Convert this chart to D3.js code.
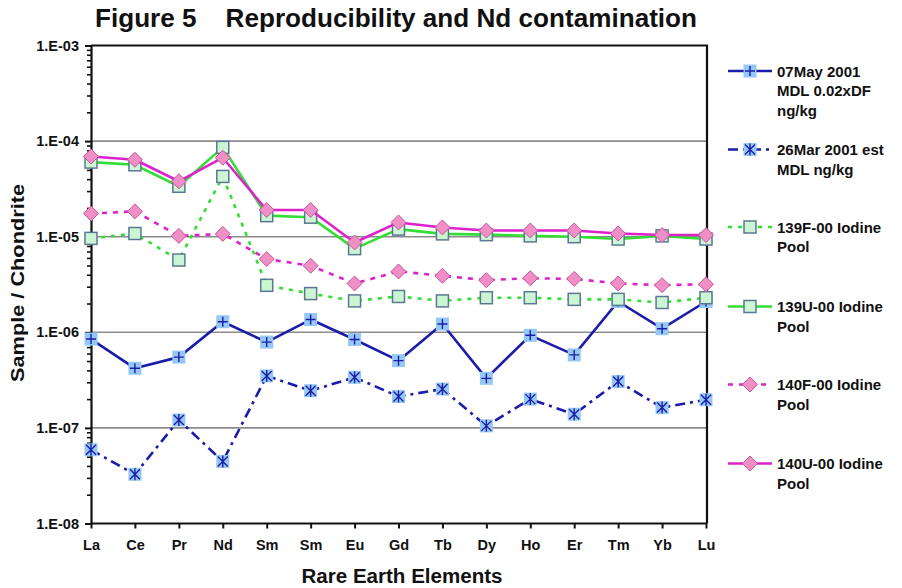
<!DOCTYPE html>
<html>
<head>
<meta charset="utf-8">
<script src="https://cdn.jsdelivr.net/npm/d3@7"></script>
<style>
  html, body { margin: 0; padding: 0; background: #ffffff; }
  svg { display: block; font-family: "Liberation Sans", Arial, sans-serif; font-weight: bold; }
  .pre { white-space: pre; }
</style>
</head>
<body>
<svg id="chart" width="902" height="588"></svg>
<script>
// Rare earth elements along the x axis (Sm appears twice in the source table)
const categories = ["La","Ce","Pr","Nd","Sm","Sm","Eu","Gd","Tb","Dy","Ho","Er","Tm","Yb","Lu"];

// Chondrite-normalised values per series
const may2001 = [8.5e-7, 4.2e-7, 5.5e-7, 1.29e-6, 7.9e-7, 1.36e-6, 8.4e-7, 5.05e-7, 1.22e-6, 3.3e-7, 9.3e-7, 5.8e-7, 2.1e-6, 1.09e-6, 2.1e-6];
const mar2001 = [5.9e-8, 3.27e-8, 1.21e-7, 4.46e-8, 3.5e-7, 2.45e-7, 3.38e-7, 2.13e-7, 2.55e-7, 1.05e-7, 2.0e-7, 1.39e-7, 3.06e-7, 1.63e-7, 1.97e-7];
const pool139F = [9.6e-6, 1.08e-5, 5.7e-6, 4.27e-5, 3.1e-6, 2.54e-6, 2.13e-6, 2.37e-6, 2.13e-6, 2.3e-6, 2.3e-6, 2.21e-6, 2.21e-6, 2.05e-6, 2.3e-6];
const pool139U = [6.03e-5, 5.65e-5, 3.37e-5, 8.6e-5, 1.66e-5, 1.6e-5, 7.5e-6, 1.2e-5, 1.07e-5, 1.05e-5, 1.02e-5, 1.0e-5, 9.45e-6, 1.02e-5, 9.45e-6];
const pool140F = [1.75e-5, 1.84e-5, 1.02e-5, 1.07e-5, 5.84e-6, 4.97e-6, 3.24e-6, 4.33e-6, 3.9e-6, 3.51e-6, 3.68e-6, 3.62e-6, 3.24e-6, 3.11e-6, 3.18e-6];
const pool140U = [6.9e-5, 6.38e-5, 3.8e-5, 6.7e-5, 1.9e-5, 1.9e-5, 8.7e-6, 1.41e-5, 1.25e-5, 1.16e-5, 1.16e-5, 1.16e-5, 1.08e-5, 1.04e-5, 1.04e-5];

// Axis ticks
const yTicks = [1e-8, 1e-7, 1e-6, 1e-5, 1e-4, 1e-3];
const yTickLabels = ["1.E-08", "1.E-07", "1.E-06", "1.E-05", "1.E-04", "1.E-03"];

const seriesNames = [
  ["07May 2001", "MDL 0.02xDF", "ng/kg"],
  ["26Mar 2001 est", "MDL ng/kg"],
  ["139F-00 Iodine", "Pool"],
  ["139U-00 Iodine", "Pool"],
  ["140F-00 Iodine", "Pool"],
  ["140U-00 Iodine", "Pool"]
];

const BLUE = "#1c1caa", BLUE_FILL = "#95c8f4";
const GREEN = "#33dd33", GREEN_FILL = "#ccf5d4", GREEN_EDGE = "#5a7894";
const MAG = "#dd22cc", PINK_FILL = "#f08ec6", PINK_EDGE = "#c4589c";

const series = [
  { values: may2001, color: BLUE, dash: null, marker: "plus" },
  { values: mar2001, color: BLUE, dash: "10,5,3,5", marker: "star" },
  { values: pool139F, color: GREEN, dash: "4,6", marker: "square" },
  { values: pool139U, color: GREEN, dash: null, marker: "square" },
  { values: pool140F, color: MAG, dash: "5,6", marker: "diamond" },
  { values: pool140U, color: MAG, dash: null, marker: "diamond" }
];

const svg = d3.select("#chart");
const plot = { left: 91, right: 707, top: 45.5, bottom: 523.5 };

const x = d3.scalePoint()
  .domain(d3.range(categories.length))
  .range([plot.left, plot.right - 1]);

const y = d3.scaleLog()
  .domain([1e-8, 1e-3])
  .range([plot.bottom, plot.top]);

// Gridlines at the inner decades
svg.append("g")
  .selectAll("line")
  .data(yTicks.slice(1, -1))
  .join("line")
  .attr("x1", plot.left).attr("x2", plot.right)
  .attr("y1", d => y(d)).attr("y2", d => y(d))
  .attr("stroke", "#8c8c8c").attr("stroke-width", 1.6);

// Plot frame (top and right edges)
svg.append("path")
  .attr("d", `M${plot.left},${y(1e-3)}H${plot.right}V${plot.bottom}`)
  .attr("fill", "none").attr("stroke", "#111").attr("stroke-width", 2.2);

// Minor ticks on the log axis
const minorTicks = [];
for (let e = -8; e < -3; e++) for (let m = 2; m <= 9; m++) minorTicks.push(m * Math.pow(10, e));

const minorAxis = svg.append("g")
  .attr("transform", `translate(${plot.left},0)`)
  .call(d3.axisLeft(y).tickValues(minorTicks).tickSize(4).tickFormat(""));
minorAxis.select(".domain").remove();
minorAxis.selectAll("line").attr("stroke", "#111").attr("stroke-width", 1.6);

const yAxis = svg.append("g")
  .attr("transform", `translate(${plot.left},0)`)
  .call(d3.axisLeft(y).tickValues(yTicks).tickSize(6).tickPadding(6)
    .tickFormat((d, i) => yTickLabels[i]));
yAxis.select(".domain").attr("stroke", "#111").attr("stroke-width", 2.2);
yAxis.selectAll("line").attr("stroke", "#111").attr("stroke-width", 2);
yAxis.selectAll("text")
  .attr("font-size", 14.5).attr("font-weight", "bold").attr("fill", "#111")
  .attr("font-family", "'Liberation Sans', Arial, sans-serif");

const xAxis = svg.append("g")
  .attr("transform", `translate(0,${plot.bottom})`)
  .call(d3.axisBottom(x).tickSize(5).tickPadding(11).tickFormat(i => categories[i]));
xAxis.select(".domain").attr("d", `M${plot.left},0H${plot.right}`)
  .attr("stroke", "#111").attr("stroke-width", 2.2);
xAxis.selectAll("line").attr("stroke", "#111").attr("stroke-width", 2);
xAxis.selectAll("text")
  .attr("font-size", 14.5).attr("font-weight", "bold").attr("fill", "#111")
  .attr("font-family", "'Liberation Sans', Arial, sans-serif");

// Marker shapes centred on (0,0)
function drawMarker(g, kind) {
  if (kind === "plus" || kind === "star") {
    g.append("rect").attr("x", -6.5).attr("y", -6.5).attr("width", 13).attr("height", 13)
      .attr("fill", BLUE_FILL);
    const p = kind === "plus"
      ? "M-5,0H5M0,-5V5"
      : "M0,-6V6M-5,-5L5,5M-5,5L5,-5";
    g.append("path").attr("d", p).attr("stroke", BLUE).attr("stroke-width", 1.4).attr("fill", "none");
  } else if (kind === "square") {
    g.append("rect").attr("x", -6).attr("y", -6).attr("width", 12).attr("height", 12)
      .attr("fill", GREEN_FILL).attr("stroke", GREEN_EDGE).attr("stroke-width", 1.5);
  } else if (kind === "diamond") {
    g.append("path").attr("d", "M0,-7.5L7.5,0L0,7.5L-7.5,0Z")
      .attr("fill", PINK_FILL).attr("stroke", PINK_EDGE).attr("stroke-width", 1);
  }
}

const line = d3.line().x((d, i) => x(i)).y(d => y(d));

series.forEach(s => {
  const g = svg.append("g");
  g.append("path")
    .attr("d", line(s.values))
    .attr("fill", "none")
    .attr("stroke", s.color)
    .attr("stroke-width", 2.6)
    .attr("stroke-dasharray", s.dash)
    .attr("stroke-linejoin", "round");
  s.values.forEach((v, i) => {
    const m = g.append("g").attr("transform", `translate(${x(i)},${y(v)})`);
    drawMarker(m, s.marker);
  });
});

// Legend
const legendTops = [71, 149.5, 227, 306.5, 384.5, 463.5];
const legend = svg.append("g");
series.forEach((s, k) => {
  const ly = legendTops[k];
  const g = legend.append("g");
  g.append("line").attr("x1", 728).attr("x2", 772).attr("y1", ly).attr("y2", ly)
    .attr("stroke", s.color).attr("stroke-width", 2.6).attr("stroke-dasharray", s.dash);
  drawMarker(g.append("g").attr("transform", `translate(750,${ly})`), s.marker);
  const t = g.append("text").attr("x", 777).attr("y", ly + 5.5)
    .attr("font-size", 15).attr("fill", "#111");
  seriesNames[k].forEach((txt, j) => {
    t.append("tspan").attr("x", 777).attr("dy", j === 0 ? 0 : 19.5).text(txt);
  });
});

// Titles
svg.append("text")
  .attr("class", "pre")
  .attr("x", 95).attr("y", 27)
  .attr("font-size", 25).attr("fill", "#111")
  .attr("textLength", 602).attr("lengthAdjust", "spacingAndGlyphs")
  .text("Figure 5    Reproducibility and Nd contamination");

svg.append("text")
  .attr("x", 402).attr("y", 583).attr("text-anchor", "middle")
  .attr("font-size", 20).attr("fill", "#111")
  .attr("textLength", 201).attr("lengthAdjust", "spacingAndGlyphs")
  .text("Rare Earth Elements");

svg.append("text")
  .attr("transform", "translate(24,283) rotate(-90)")
  .attr("text-anchor", "middle")
  .attr("font-size", 17.5).attr("fill", "#111")
  .attr("textLength", 198).attr("lengthAdjust", "spacingAndGlyphs")
  .text("Sample / Chondrite");
</script>
</body>
</html>
